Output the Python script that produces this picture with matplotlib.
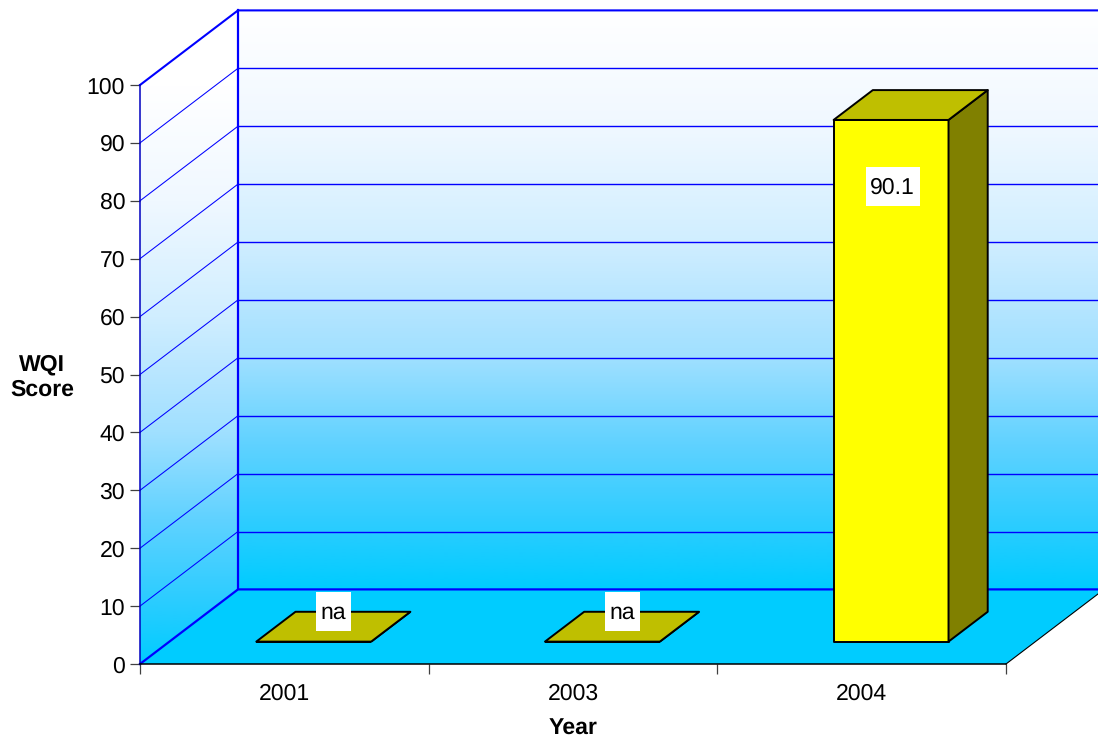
import numpy as np
import matplotlib
matplotlib.use('Agg')
import matplotlib.pyplot as plt
from matplotlib.colors import LinearSegmentedColormap
from matplotlib.patches import Polygon, Rectangle

plt.rcParams['font.family'] = ['Liberation Sans', 'DejaVu Sans']
plt.rcParams['text.hinting'] = 'no_hinting'
plt.rcParams['text.hinting_factor'] = 1

years = ['2001', '2003', '2004']
scores = [0, 0, 90.1]
score_labels = ['na', 'na', '90.1']
yticks = [0, 10, 20, 30, 40, 50, 60, 70, 80, 90, 100]

W, H = 1098, 738
fsize = 16.4
blue = '#0000ff'
grad = LinearSegmentedColormap.from_list('wall', [
    (0.0, '#ffffff'), (0.2, '#f0f8ff'), (0.4, '#d0eeff'), (0.5, '#b8e6ff'),
    (0.6, '#a0e0ff'), (0.75, '#60d2ff'), (0.9, '#28ccff'), (1.0, '#00ccff')])

fig = plt.figure(figsize=(W / 100, H / 100), dpi=100)
ax = fig.add_axes([140 / W, (H - 664) / H, 866 / W, 579 / H])
ax.set_facecolor('none')

# how far the back of the box sits from the front, in data units
xunit = 866 / 3
yunit = 579 / 100
DX = 98 / xunit
DY = 74.6 / yunit
xmax = len(years)
ymax = yticks[-1]


def wall(corners, y0, y1):
    patch = Polygon(corners, closed=True, fc='none', ec='none', transform=ax.transData)
    ax.add_patch(patch)
    im = ax.imshow(np.linspace(0, 1, 256).reshape(-1, 1), cmap=grad, aspect='auto',
                   extent=(0, xmax + DX, y0, y1), origin='upper',
                   interpolation='bilinear', zorder=0)
    im.set_clip_path(patch)
    im.set_clip_box(fig.bbox)


# back wall, side wall and floor
wall([(DX, DY), (xmax + DX, DY), (xmax + DX, ymax + DY), (DX, ymax + DY)], DY, ymax + DY)
wall([(0, 0), (DX, DY), (DX, ymax + DY), (0, ymax)], 0, ymax)
ax.add_patch(Polygon([(0, 0), (xmax, 0), (xmax + DX, DY), (DX, DY)], closed=True,
                     fc='#00ccff', ec='none', zorder=1, clip_on=False))

# gridlines
for t in yticks[1:-1]:
    ax.plot([0, DX], [t, t + DY], color=blue, lw=0.75, zorder=2, clip_on=False)
    ax.plot([DX, xmax + DX], [t + DY, t + DY], color=blue, lw=1.0, zorder=2, clip_on=False)
ax.plot([0, DX, xmax + DX], [ymax, ymax + DY, ymax + DY], color=blue, lw=1.5, zorder=2, clip_on=False)
ax.plot([0, DX, xmax + DX], [0, DY, DY], color=blue, lw=1.6, zorder=2, clip_on=False)
ax.plot([DX, DX], [DY, ymax + DY], color=blue, lw=1.6, zorder=2, clip_on=False)
ax.plot([xmax, xmax + DX], [0, DY], color='black', lw=0.8, zorder=2, clip_on=False)

# bars: front, side and top faces
bar_w = 0.398
d0, d1 = 0.3, 0.7
for i, v in enumerate(scores):
    x0 = i + 0.5 - bar_w / 2 + d0 * DX
    x1 = x0 + bar_w
    y0 = d0 * DY
    y1 = y0 + v
    sx = (d1 - d0) * DX
    sy = (d1 - d0) * DY
    faces = [
        ([(x0, y0), (x1, y0), (x1, y1), (x0, y1)], '#ffff00'),
        ([(x1, y0), (x1 + sx, y0 + sy), (x1 + sx, y1 + sy), (x1, y1)], '#808000'),
        ([(x0, y1), (x1, y1), (x1 + sx, y1 + sy), (x0 + sx, y1 + sy)], '#bfbf00'),
    ]
    for pts, c in faces:
        ax.add_patch(Polygon(pts, closed=True, fc=c, ec='black', lw=1.4, zorder=3,
                             joinstyle='round', clip_on=False))

    # value label on a white box
    if score_labels[i] == 'na':
        lx, ly, bw = i + 0.5 + 0.5 * DX, d1 * DY, 35
    else:
        lx, ly, bw = i + 0.5 + d0 * DX + 1.5 / xunit, y1 - 67 / yunit, 54
    bw = bw / xunit
    bh = 39 / yunit
    ax.add_patch(Rectangle((lx - bw / 2, ly - bh / 2), bw, bh, fc='white', ec='none',
                           zorder=4.5, clip_on=False))
    ax.text(lx, ly + 1 / yunit, score_labels[i], ha='center', va='center_baseline', fontsize=fsize,
            color='black', zorder=5)

ax.set_xlim(0, xmax)
ax.set_ylim(0, ymax)

ax.set_yticks(yticks)
ax.set_xticks(range(xmax + 1))
ax.set_xticklabels([])
ax.set_xticks([i + 0.5 for i in range(xmax)], labels=years, minor=True)
ax.tick_params(axis='y', length=7.2, width=0.9, color='#404040', pad=3.5, labelsize=fsize)
ax.tick_params(axis='x', which='major', length=7.2, width=0.9, color='#404040')
ax.tick_params(axis='x', which='minor', length=0, pad=14, labelsize=fsize)

for s in ['top', 'right']:
    ax.spines[s].set_visible(False)
ax.spines['left'].set_color('#0000c0')
ax.spines['left'].set_linewidth(1.1)
ax.spines['bottom'].set_color('black')
ax.spines['bottom'].set_linewidth(1.1)
for s in ax.spines.values():
    s.set_zorder(4)

ax.set_xlabel('Year', fontsize=fsize, fontweight='bold')
ax.xaxis.set_label_coords(433 / 866, (664 - 729) / 579, transform=ax.transAxes)
ax.xaxis.label.set_va('center')
ax.set_ylabel('WQI\nScore', fontsize=fsize, fontweight='bold', rotation=0, ha='center', va='center')
ax.yaxis.set_label_coords((42 - 140) / 866, (664 - 377) / 579, transform=ax.transAxes)

fig.savefig('out.png', dpi=100)
